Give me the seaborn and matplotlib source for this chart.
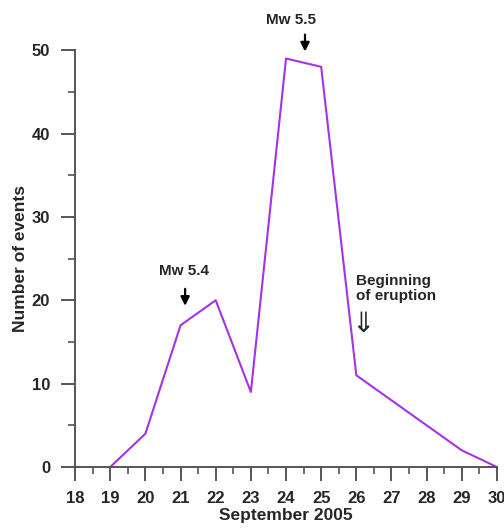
import numpy as np
import pandas as pd
import matplotlib
matplotlib.use('Agg')
import matplotlib.pyplot as plt
import seaborn as sns
from matplotlib.ticker import MultipleLocator

# daily counts, September 2005
days = [19, 20, 21, 22, 23, 24, 25, 26, 27, 28, 29, 30]
events = [0, 4, 17, 20, 9, 49, 48, 11, 8, 5, 2, 0]

df = pd.DataFrame({'day': days, 'events': events})

sns.set_style('ticks')
plt.rcParams['font.family'] = ['Liberation Sans', 'DejaVu Sans']
plt.rcParams['font.weight'] = 'bold'

fig = plt.figure(figsize=(5.04, 5.28), dpi=100)
ax = fig.add_axes([0.149, 0.1155, 0.837, 0.7895])

sns.lineplot(data=df, x='day', y='events', color='#a433e6', linewidth=1.5, ax=ax, clip_on=False)

ax.set_xlim(18, 30)
ax.set_ylim(0, 50)
ax.xaxis.set_major_locator(MultipleLocator(1))
ax.xaxis.set_minor_locator(MultipleLocator(0.5))
ax.yaxis.set_major_locator(MultipleLocator(10))
ax.yaxis.set_minor_locator(MultipleLocator(5))

spine_col = '#555555'
for s in ['top', 'right']:
    ax.spines[s].set_visible(False)
for s in ['left', 'bottom']:
    ax.spines[s].set_color(spine_col)
    ax.spines[s].set_linewidth(1.4)

ax.tick_params(which='major', direction='out', length=10, width=1.4, color=spine_col,
               labelsize=12)
ax.tick_params(axis='x', which='major', pad=7)
ax.tick_params(axis='y', which='major', pad=8)
ax.tick_params(which='minor', direction='out', length=5, width=1.2, color=spine_col)
for lab in ax.get_xticklabels() + ax.get_yticklabels():
    lab.set_fontweight('bold')

ax.set_xlabel('September 2005', fontsize=12.5, fontweight='bold', labelpad=2)
ax.set_ylabel('Number of events', fontsize=12.5, fontweight='bold', labelpad=3)

# annotations
arrow = dict(arrowstyle='-|>', color='black', lw=1.6, mutation_scale=13)
ax.annotate('', xy=(21.13, 19.0), xytext=(21.13, 21.7), arrowprops=arrow,
            annotation_clip=False)
ax.text(21.1, 23.5, 'Mw 5.4', ha='center', va='center', fontsize=11, fontweight='bold')

ax.annotate('', xy=(24.54, 49.5), xytext=(24.54, 52.2), arrowprops=arrow,
            annotation_clip=False)
ax.text(24.15, 53.6, 'Mw 5.5', ha='center', va='center', fontsize=11, fontweight='bold',
        clip_on=False)

ax.text(26.0, 21.4, 'Beginning\nof eruption', ha='left', va='center', fontsize=11,
        fontweight='bold', linespacing=1.05)
ax.text(26.2, 17.2, '\u21d3', ha='center', va='center', fontsize=20,
        family=['DejaVu Sans'], fontweight='normal')

fig.savefig('out.png', dpi=100, facecolor='white')
